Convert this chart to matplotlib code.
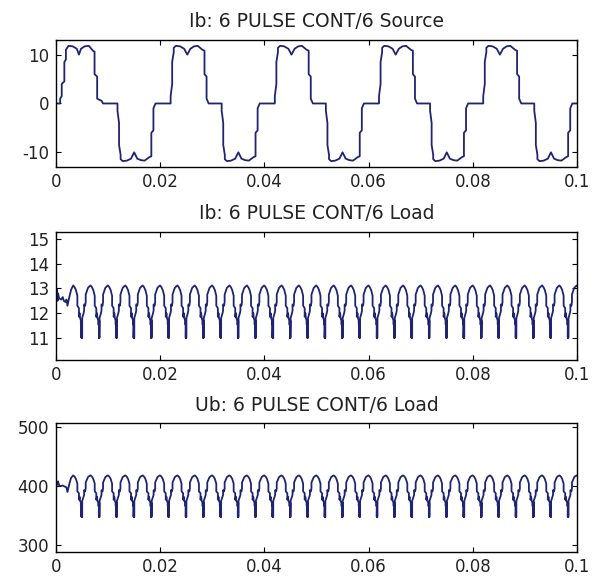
import numpy as np
import matplotlib
matplotlib.use("Agg")
import matplotlib.pyplot as plt

# ---- data ----
# source current: first part (0 .. 0.0118 s)
src_start_t = [0.0, 0.0008, 0.0008, 0.0011, 0.0011, 0.0016, 0.0016, 0.0019, 0.0019,
               0.0024, 0.0032, 0.0040, 0.0044, 0.0048, 0.0055, 0.0063, 0.0071,
               0.0074, 0.0074, 0.0079, 0.0079, 0.0088, 0.0090, 0.0118]
src_start_v = [0.0, 0.0, 1.0, 1.5, 4.0, 4.5, 8.5, 9.0, 11.0,
               11.8, 11.7, 11.2, 10.0, 11.2, 11.7, 11.8, 10.8,
               10.6, 6.0, 5.5, 1.0, 0.5, 0.0, 0.0]

# source current: one 20 ms period, starting at the negative half
src_period = 0.02
src_first = 0.0118
src_off = [0.0, 0.0, 0.0003, 0.0003, 0.0006, 0.0006, 0.0010, 0.0018, 0.0026,
           0.0032, 0.0038, 0.0045, 0.0052, 0.0061, 0.0065, 0.0065, 0.0069, 0.0069,
           0.0073, 0.0102, 0.0102, 0.0105, 0.0105, 0.0108, 0.0108, 0.0112,
           0.0120, 0.0128, 0.0134, 0.0140, 0.0147, 0.0154, 0.0163, 0.0167, 0.0167,
           0.0171, 0.0171, 0.0175, 0.0200]
src_val = [0.0, -1.5, -4.0, -8.5, -10.5, -11.4, -11.8, -11.7, -11.3,
           -10.0, -11.3, -11.6, -11.7, -11.0, -10.8, -6.0, -5.5, -1.0,
           0.0, 0.0, 1.5, 4.0, 8.5, 10.5, 11.4, 11.8,
           11.7, 11.2, 10.0, 11.2, 11.7, 11.8, 11.0, 10.8, 6.0,
           5.5, 1.0, 0.0, 0.0]

# load ripple: six pulses per 20 ms
rip_period = 0.02 / 6
rip_first = 0.0033
rip_off = [0.0, 0.00027, 0.00053, 0.0008, 0.0008, 0.0011, 0.0011, 0.00123, 0.00133,
           0.00147, 0.00147, 0.0016, 0.0016, 0.00163, 0.00163, 0.00167, 0.00167,
           0.00173, 0.00173, 0.0020, 0.0021, 0.0021, 0.0023, 0.0024, 0.0024,
           0.00283, 0.0031]

# load current
il_start_t = [0.0, 0.0, 0.0001, 0.0002, 0.0003, 0.0004, 0.0006, 0.0010, 0.0013,
              0.0015, 0.0018, 0.0020, 0.0022, 0.0025, 0.0029]
il_start_v = [10.1, 12.9, 12.5, 12.95, 12.5, 12.8, 12.6, 12.55, 12.65,
              12.5, 12.45, 12.55, 12.3, 12.6, 12.95]
il_val = [13.12, 13.05, 12.93, 12.7, 12.3, 12.2, 11.85, 12.0, 11.8,
          11.7, 11.55, 11.5, 11.0, 11.7, 11.0, 11.7, 11.0,
          11.0, 11.8, 12.0, 12.1, 12.35, 12.3, 12.45, 12.75,
          13.02, 13.08]

# load voltage
ul_start_t = [0.0, 0.0, 0.0002, 0.0004, 0.0006, 0.0009, 0.0013, 0.0017, 0.0020,
              0.0022, 0.0026, 0.0029]
ul_start_v = [289, 410, 402, 408, 401, 400, 401, 399, 398,
              390, 405, 414]
ul_val = [418, 416, 412, 404, 391, 388, 377, 382, 375,
          372, 367, 365, 348, 372, 348, 372, 348,
          348, 375, 382, 385, 393, 391, 396, 406,
          415, 417]

titles = ["Ib: 6 PULSE CONT/6 Source", "Ib: 6 PULSE CONT/6 Load",
          "Ub: 6 PULSE CONT/6 Load"]
xticks = [0, 0.02, 0.04, 0.06, 0.08, 0.1]
xlabels = ["0", "0.02", "0.04", "0.06", "0.08", "0.1"]
yticks = [[-10, 0, 10], [11, 12, 13, 14, 15], [300, 400, 500]]
ylims = [(-13, 13), (10.1, 15.3), (289, 506)]


def repeat(start, period, n, offs, vals):
    ts = np.concatenate([start + k * period + np.asarray(offs) for k in range(n)])
    vs = np.tile(np.asarray(vals, dtype=float), n)
    return ts, vs


t1, v1 = repeat(src_first, src_period, 5, src_off, src_val)
src_t = np.concatenate([src_start_t, t1])
src_v = np.concatenate([src_start_v, v1])

t2, v2 = repeat(rip_first, rip_period, 30, rip_off, il_val)
il_t = np.concatenate([il_start_t, t2])
il_v = np.concatenate([il_start_v, v2])

t3, v3 = repeat(rip_first, rip_period, 30, rip_off, ul_val)
ul_t = np.concatenate([ul_start_t, t3])
ul_v = np.concatenate([ul_start_v, v3])

series = [(src_t, src_v), (il_t, il_v), (ul_t, ul_v)]

plt.rcParams['font.family'] = 'DejaVu Sans'
fig = plt.figure(figsize=(5.97, 5.76), dpi=100)
boxes = [[0.0938, 0.7101, 0.8727, 0.2205],
         [0.0938, 0.3750, 0.8727, 0.2228],
         [0.0938, 0.0420, 0.8727, 0.2231]]
line_col = '#1e2472'

for i in range(3):
    ax = fig.add_axes(boxes[i])
    t, v = series[i]
    ax.plot(t, v, color=line_col, lw=1.3)
    ax.set_xlim(0, 0.1)
    ax.set_ylim(*ylims[i])
    ax.set_xticks(xticks)
    ax.set_xticklabels(xlabels)
    ax.set_yticks(yticks[i])
    ax.set_yticklabels([str(y) for y in yticks[i]])
    ax.tick_params(direction='in', top=True, right=True, length=3.6,
                   labelsize=12, colors='black', labelcolor='#222222')
    ax.tick_params(axis='x', pad=4.5)
    ax.tick_params(axis='y', pad=5)
    for s in ax.spines.values():
        s.set_linewidth(1.0)
    ax.set_title(titles[i], fontsize=13.5, pad=9, color='#222222')

fig.savefig('out.png', dpi=100)
